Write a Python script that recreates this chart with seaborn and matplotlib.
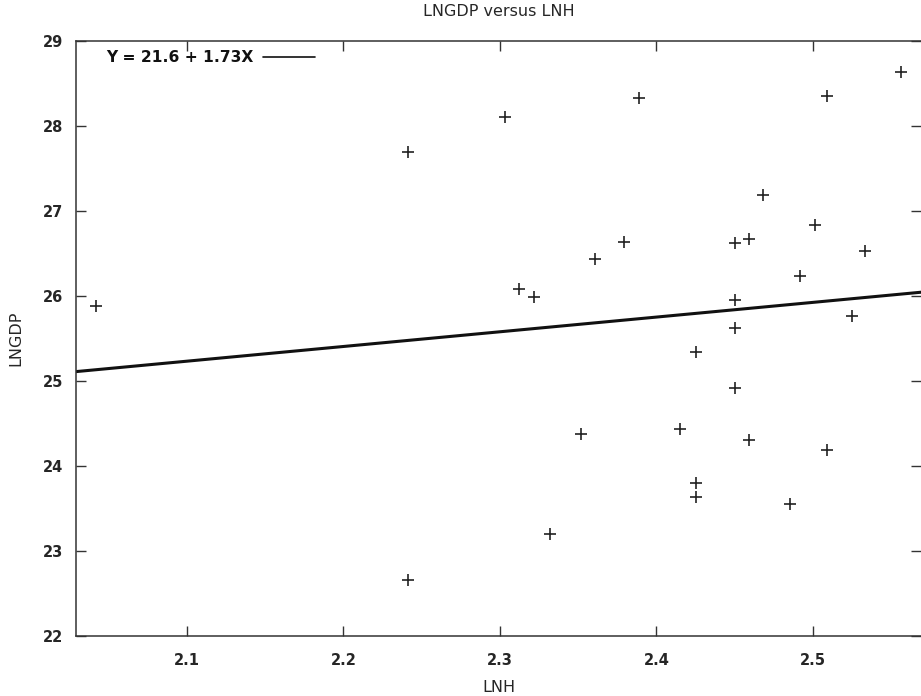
import matplotlib
matplotlib.use("Agg")
import matplotlib.pyplot as plt
import seaborn as sns
import pandas as pd
import numpy as np

# Data
lnh = [2.042, 2.241, 2.241, 2.303, 2.312, 2.322, 2.332, 2.352, 2.361, 2.379,
       2.389, 2.415, 2.425, 2.425, 2.425, 2.450, 2.450, 2.450, 2.450, 2.459,
       2.459, 2.468, 2.485, 2.492, 2.501, 2.509, 2.509, 2.525, 2.533, 2.556]
lngdp = [25.88, 27.69, 22.66, 28.11, 26.08, 25.99, 23.20, 24.38, 26.44, 26.64,
         28.33, 24.44, 25.34, 23.80, 23.63, 26.62, 25.95, 25.62, 24.92, 26.67,
         24.31, 27.19, 23.55, 26.23, 26.83, 28.35, 24.19, 25.76, 26.53, 28.64]

intercept = 21.6
slope = 1.73
fit_label = "Y = 21.6 + 1.73X"

x_ticks = [2.1, 2.2, 2.3, 2.4, 2.5]
y_ticks = [22, 23, 24, 25, 26, 27, 28, 29]
x_range = [2.0292, 2.5690]
y_range = [22, 29]

sns.set_style("ticks")
plt.rcParams['font.family'] = ['DejaVu Sans']

fig = plt.figure(figsize=(9.21, 6.96), dpi=100)
ax = fig.add_axes([76/921, 60/696, (921-76)/921, 595/696])

df = pd.DataFrame({"LNH": lnh, "LNGDP": lngdp})
sns.scatterplot(data=df, x="LNH", y="LNGDP", marker="+", s=80, color="#222222",
                linewidth=1.2, ax=ax, legend=False, zorder=3)

line_x = np.array(x_range)
line_df = pd.DataFrame({"x": line_x, "y": intercept + slope * line_x})
sns.lineplot(data=line_df, x="x", y="y", color="#111111", linewidth=2.2, ax=ax,
             legend=False, zorder=2)

ax.set_xlim(*x_range)
ax.set_ylim(*y_range)
ax.set_xticks(x_ticks)
ax.set_yticks(y_ticks)
ax.set_xticklabels([f"{v:.1f}" for v in x_ticks], fontweight="bold", fontsize=10.5)
ax.set_yticklabels([str(v) for v in y_ticks], fontweight="bold", fontsize=10.5)
ax.tick_params(direction="in", length=7, width=1, top=True, right=True,
               color="#333333", pad=9)
ax.tick_params(axis="x", pad=12)
for side, sp in ax.spines.items():
    sp.set_color("#333333")
    sp.set_linewidth(1.1)
ax.spines["right"].set_visible(False)

ax.set_xlabel("LNH", fontsize=11.5, labelpad=9)
ax.set_ylabel("LNGDP", fontsize=11.5, labelpad=14)
ax.set_title("LNGDP versus LNH", fontsize=11.5, pad=18)

# Legend-style key in the upper-left
ax.text(106/921, 1 - 57/696, fit_label, transform=fig.transFigure, fontsize=11.2,
        fontweight="bold", va="center", ha="left", color="#111111")
fig.add_artist(plt.Line2D([263/921, 315/921], [1 - 57/696, 1 - 57/696],
                          transform=fig.transFigure, color="#111111", linewidth=1.2))

fig.savefig("out.png", dpi=100)
